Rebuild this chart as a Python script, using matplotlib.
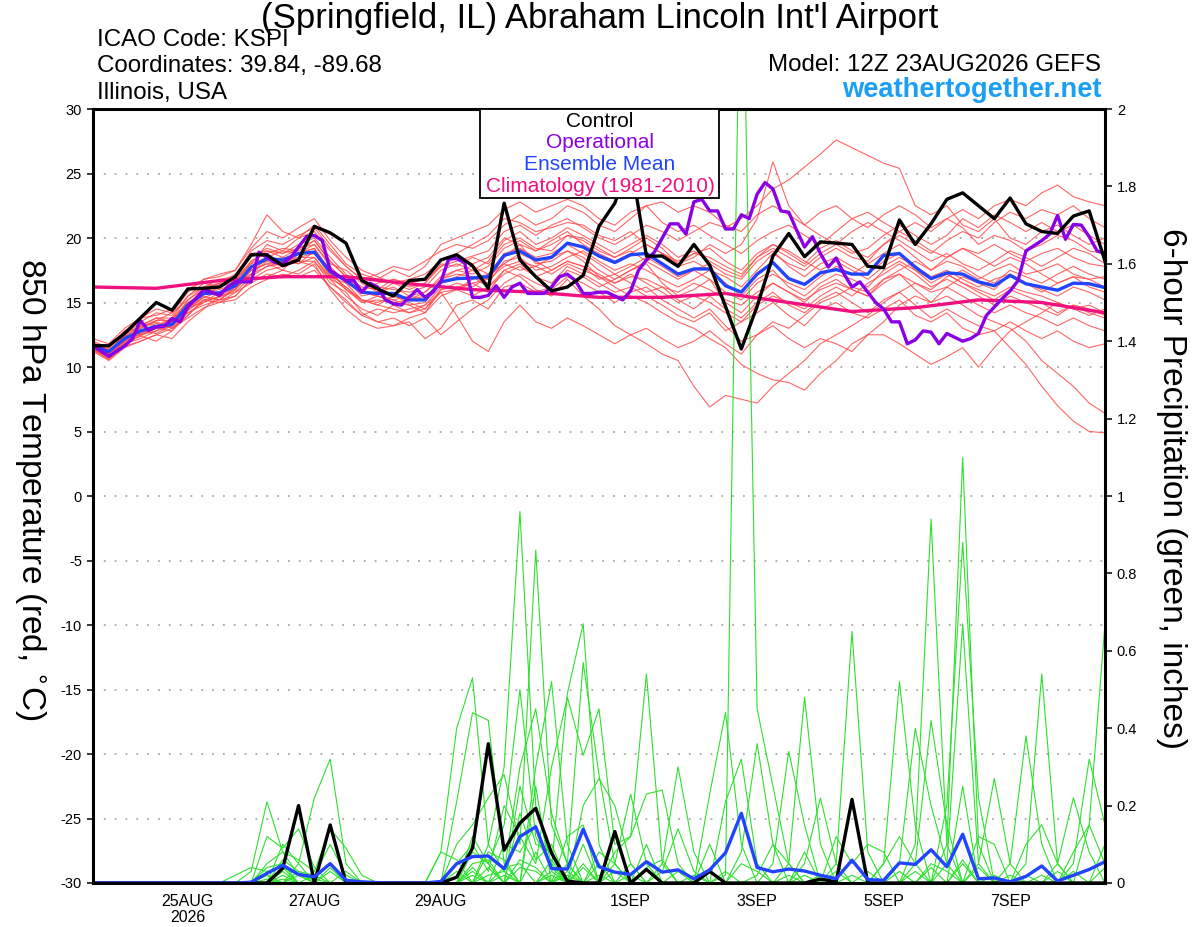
import numpy as np
import matplotlib
matplotlib.use('Agg')
import matplotlib.pyplot as plt
from matplotlib.patches import Rectangle

plt.rcParams['font.family'] = ['Liberation Sans', 'DejaVu Sans']
plt.rcParams['axes.unicode_minus'] = False

# forecast hours from 12Z 23AUG2026, 6-hourly
hours = np.arange(0, 385, 6)

# 850 hPa temperature, control run
ctrl_t = [11.65, 11.65, 12.6, 13.8, 15.0, 14.4, 16.05, 16.1, 16.2, 17.0,
          18.7, 18.7, 17.85, 18.3, 20.9, 20.4, 19.6, 16.7, 16.05, 15.5,
          16.7, 16.8, 18.3, 18.7, 17.85, 16.1, 22.7, 18.3, 17.0, 15.9,
          16.2, 17.1, 20.9, 22.7, 26.0, 18.6, 18.6, 17.8, 19.5, 17.9,
          14.7, 11.4, 14.7, 18.6, 20.35, 18.55, 19.7, 19.6, 19.5, 17.8,
          17.7, 21.4, 19.5, 21.1, 23.0, 23.5, 22.5, 21.5, 23.1, 21.1,
          20.5, 20.35, 21.7, 22.1, 18.2]

# operational run (3-hourly after the first half day)
op_hours = [0, 6, 12] + list(range(15, 385, 3))
op_t = [11.63, 10.83, 11.63,
        12.2, 13.6, 12.84, 13.1, 13.15, 13.75, 13.5, 14.65, 15.3, 16.0,
        15.8, 15.55, 16.2, 16.6, 16.6, 16.6, 18.9, 18.5, 18.1, 18.0,
        18.5, 19.3, 20.1, 20.2, 19.8, 17.5, 17.1, 16.7, 16.7, 15.8,
        16.5, 16.2, 15.2, 14.9, 14.8, 15.4, 16.0, 15.4, 15.8, 16.6,
        18.4, 18.4, 18.1, 15.4, 15.4, 15.55, 16.3, 15.4, 16.2, 16.5,
        15.7, 15.7, 15.7, 16.2, 17.0, 17.2, 16.7, 15.7,
        15.7, 15.8, 15.8, 15.5, 15.2, 15.9, 17.5, 18.3, 18.9, 20.0,
        21.1, 21.1, 20.3, 22.8, 23.0, 22.1, 22.1, 20.7, 20.7, 21.8,
        21.5, 23.4, 24.3, 23.8, 22.1, 22.0, 20.6, 19.3, 20.1, 18.8,
        17.75, 18.45, 17.2, 16.2, 16.6, 15.8, 15.0, 14.5, 13.5, 13.5,
        11.8, 12.1, 12.8, 12.7, 11.8, 12.6, 12.3, 12.0, 12.2, 12.6,
        14.0, 14.65, 15.3, 15.9, 16.7, 19.0, 19.4, 19.8, 20.3, 21.75,
        19.9, 21.05, 21.0, 20.1, 19.0, 18.8]

mean_t = [11.6, 11.2, 12.2, 12.8, 13.15, 13.3, 14.8, 15.7, 15.75, 16.3,
          17.75, 18.4, 18.3, 18.8, 18.9, 17.4, 16.7, 15.8, 15.7, 15.7,
          15.2, 15.2, 16.6, 16.85, 16.9, 17.0, 18.65, 19.0, 18.3, 18.5,
          19.6, 19.3, 18.6, 18.1, 18.7, 18.8, 18.0, 17.2, 17.6, 17.6,
          16.3, 15.8, 17.2, 18.1, 16.85, 16.4, 17.3, 17.55, 17.2, 17.2,
          18.65, 18.8, 17.75, 16.85, 17.3, 17.2, 16.6, 16.3, 17.1, 16.45,
          16.2, 15.95, 16.5, 16.45, 16.15]

# climatology (1981-2010), daily at 12Z
clim_hours = np.arange(0, 385, 24)
clim_t = [16.2, 16.1, 16.7, 17.0, 17.0, 16.45, 16.0, 15.8, 15.4,
          15.4, 15.7, 15.0, 14.3, 14.6, 15.2, 15.0, 14.2]

# ensemble members, 850 hPa temperature
members_t = [
    [11.8, 11.0, 12.5, 13.2, 13.8, 13.5, 15.2, 16.0, 16.5, 17.0,
     18.5, 19.2, 18.8, 19.5, 20.0, 18.5, 17.2, 16.0, 16.5, 16.8,
     16.2, 16.5, 17.8, 18.2, 18.6, 19.0, 20.5, 21.0, 20.2, 21.0,
     21.5, 20.8, 20.0, 19.5, 20.2, 21.0, 20.5, 19.8, 20.5, 21.2,
     20.8, 21.5, 22.5, 23.8, 24.5, 25.5, 26.5, 27.6, 27.0, 26.4,
     25.8, 25.4, 22.5, 21.8, 22.5, 21.0, 20.5, 21.5, 20.0, 19.5,
     20.5, 21.0, 20.2, 19.5, 20.0],
    [11.4, 10.6, 11.8, 12.4, 12.0, 12.8, 14.0, 15.2, 15.0, 15.8,
     17.0, 17.8, 18.2, 18.0, 18.5, 16.8, 15.5, 14.5, 14.0, 14.8,
     14.2, 14.5, 15.8, 16.0, 15.5, 16.2, 17.5, 18.0, 17.0, 16.5,
     17.8, 17.2, 16.5, 15.8, 16.2, 15.5, 14.8, 14.0, 13.5, 14.2,
     12.8, 13.5, 14.2, 15.0, 14.0, 13.2, 14.5, 15.0, 14.2, 13.8,
     14.5, 15.2, 14.0, 13.5, 14.2, 13.0, 12.5, 12.8, 11.5, 10.2,
     8.5, 7.0, 5.8, 5.0, 4.9],
    [11.9, 11.3, 12.0, 13.0, 13.5, 13.0, 14.5, 15.5, 15.2, 16.0,
     17.5, 18.0, 17.5, 18.8, 19.2, 17.5, 16.0, 15.0, 15.5, 15.2,
     14.8, 15.0, 16.5, 17.0, 17.5, 16.8, 18.5, 19.5, 18.0, 18.2,
     19.0, 18.5, 17.5, 16.8, 17.5, 18.0, 16.5, 15.5, 16.0, 16.8,
     15.0, 14.2, 15.5, 16.5, 15.8, 15.0, 16.2, 16.8, 16.0, 15.5,
     16.8, 17.2, 16.0, 15.0, 15.5, 14.8, 14.0, 13.5, 13.0, 12.0,
     10.5, 9.5, 8.5, 7.2, 6.4],
    [11.5, 10.9, 12.4, 12.6, 13.0, 13.8, 14.6, 15.0, 15.5, 16.2,
     17.2, 18.2, 18.5, 18.0, 19.0, 17.0, 16.5, 15.2, 14.8, 15.5,
     15.0, 14.5, 16.0, 16.2, 16.5, 15.8, 17.5, 17.0, 16.0, 15.5,
     16.8, 15.5, 14.5, 13.2, 12.5, 11.8, 11.0, 10.5, 8.5, 6.9,
     7.8, 7.5, 7.2, 8.5, 9.5, 10.5, 11.8, 12.5, 13.2, 14.0,
     15.0, 15.8, 16.5, 16.0, 17.0, 17.5, 16.8, 17.5, 18.0, 17.2,
     17.5, 18.0, 17.2, 16.8, 17.0],
    [11.2, 10.5, 11.5, 12.0, 12.5, 12.2, 13.5, 14.5, 15.5, 15.8,
     16.5, 17.2, 17.0, 17.5, 18.2, 16.5, 15.8, 14.2, 13.5, 13.2,
     13.8, 14.2, 15.5, 16.0, 16.8, 17.2, 18.0, 17.5, 17.8, 18.5,
     19.0, 18.2, 17.0, 16.2, 15.5, 15.0, 14.2, 13.5, 13.0, 12.2,
     11.5, 10.2, 9.5, 9.0, 8.8, 8.2, 9.5, 10.5, 11.8, 12.5,
     13.5, 14.8, 15.5, 15.0, 16.2, 17.0, 16.5, 16.0, 17.2, 16.5,
     15.8, 16.5, 17.0, 16.2, 15.8],
    [12.0, 11.5, 12.8, 13.5, 14.2, 14.0, 15.5, 16.5, 16.2, 16.8,
     18.0, 19.5, 19.0, 20.0, 20.5, 19.0, 17.8, 16.8, 16.2, 16.0,
     15.8, 16.2, 17.5, 18.0, 17.5, 18.2, 19.8, 20.5, 19.5, 20.0,
     20.8, 20.2, 19.5, 18.8, 19.5, 20.2, 19.5, 18.5, 19.0, 18.2,
     17.5, 17.0, 18.5, 19.5, 18.8, 18.0, 19.2, 19.8, 19.0, 18.5,
     19.5, 20.5, 21.2, 20.5, 21.5, 22.2, 21.5, 22.5, 23.0, 22.5,
     23.5, 24.1, 23.2, 22.8, 22.5],
    [11.7, 11.1, 12.2, 12.8, 13.2, 13.5, 15.0, 15.8, 16.0, 16.5,
     18.2, 18.8, 19.2, 19.0, 19.8, 18.2, 17.0, 15.8, 15.5, 15.2,
     15.5, 15.8, 17.0, 17.5, 17.2, 17.8, 19.2, 19.8, 19.0, 19.5,
     20.2, 19.8, 19.0, 18.5, 19.2, 20.0, 19.2, 18.0, 18.5, 19.5,
     18.8, 19.5, 21.5, 25.9, 22.5, 21.0, 20.2, 19.5, 20.5, 21.2,
     20.5, 19.8, 19.0, 18.2, 18.8, 18.0, 17.5, 18.2, 19.0, 18.5,
     17.8, 18.5, 19.2, 18.8, 18.0],
    [11.6, 11.0, 12.6, 13.8, 14.5, 14.2, 15.8, 16.8, 17.2, 17.5,
     19.5, 21.8, 20.5, 20.0, 21.0, 19.5, 18.0, 17.2, 16.8, 17.5,
     17.0, 17.8, 19.5, 20.0, 20.5, 21.0, 22.2, 22.8, 22.0, 22.5,
     23.0, 22.5, 21.5, 21.0, 22.0, 22.5, 21.2, 20.5, 21.0, 20.2,
     19.5, 18.8, 19.8, 20.5, 21.0, 20.2, 19.5, 20.5, 21.5, 22.0,
     21.2, 20.5, 19.8, 19.0, 18.5, 19.2, 18.5, 17.8, 18.5, 18.0,
     17.2, 16.5, 17.0, 16.8, 16.2],
    [11.3, 10.8, 11.8, 12.2, 12.8, 13.2, 14.2, 15.0, 15.8, 16.0,
     17.5, 18.0, 18.2, 18.5, 18.8, 17.2, 16.8, 15.5, 15.8, 16.2,
     15.5, 15.2, 16.8, 17.2, 17.0, 16.5, 18.2, 18.5, 17.5, 17.8,
     18.5, 19.0, 18.2, 17.5, 18.0, 17.5, 16.8, 16.2, 16.8, 17.5,
     16.5, 15.5, 16.8, 17.5, 16.2, 15.5, 16.5, 17.2, 16.8, 16.2,
     17.5, 18.2, 17.5, 16.8, 17.2, 16.5, 15.8, 15.2, 16.0, 15.5,
     15.0, 14.2, 14.8, 14.5, 14.0],
    [11.5, 10.7, 12.0, 12.6, 13.4, 13.0, 14.0, 15.2, 15.0, 15.5,
     16.8, 17.5, 17.8, 18.2, 17.8, 16.2, 15.2, 14.0, 13.5, 13.8,
     13.2, 13.8, 12.5, 13.5, 14.5, 15.2, 16.5, 17.2, 16.5, 16.0,
     17.0, 16.5, 15.8, 15.0, 15.8, 16.2, 15.2, 14.5, 13.8, 14.5,
     13.2, 12.0, 12.5, 13.2, 12.2, 11.5, 12.2, 11.8, 11.2, 12.5,
     12.5, 11.8, 11.0, 10.2, 10.8, 11.5, 10.0, 11.5, 12.8, 13.5,
     14.2, 15.0, 14.5, 14.0, 14.5],
    [11.8, 11.4, 12.8, 13.0, 13.6, 14.2, 15.2, 16.2, 16.5, 17.2,
     18.8, 19.0, 18.5, 19.2, 19.5, 18.0, 17.5, 16.5, 15.8, 16.5,
     16.0, 16.5, 18.0, 17.8, 18.5, 18.0, 19.5, 20.0, 19.2, 19.0,
     20.2, 20.0, 19.2, 18.5, 19.0, 18.2, 18.8, 17.8, 18.2, 17.5,
     17.0, 16.2, 17.5, 18.8, 18.0, 17.5, 18.5, 19.2, 18.5, 18.2,
     19.5, 20.2, 19.5, 18.8, 19.8, 20.5, 20.0, 21.2, 22.0, 21.5,
     22.2, 21.8, 22.5, 21.5, 20.8],
    [11.4, 10.8, 12.2, 12.5, 12.8, 13.5, 14.2, 14.8, 15.2, 15.5,
     16.8, 17.0, 17.5, 17.2, 18.0, 16.0, 14.5, 13.5, 13.0, 13.2,
     13.5, 12.2, 13.0, 14.8, 15.2, 14.5, 16.2, 16.5, 15.8, 16.2,
     17.5, 17.0, 16.2, 16.8, 17.5, 18.2, 17.5, 16.8, 17.5, 18.0,
     17.2, 16.8, 18.2, 19.0, 17.8, 17.0, 18.0, 18.5, 17.8, 17.2,
     18.2, 18.8, 17.5, 16.5, 17.2, 16.5, 16.0, 15.5, 16.2, 15.8,
     15.5, 15.0, 14.5, 14.8, 14.2],
    [11.9, 11.2, 12.4, 13.2, 13.8, 13.8, 15.5, 16.2, 16.8, 17.0,
     19.0, 19.8, 19.5, 20.2, 20.8, 19.2, 17.8, 16.8, 17.2, 17.8,
     17.5, 18.2, 19.0, 19.5, 19.2, 19.8, 21.0, 21.8, 21.0, 21.5,
     22.5, 22.0, 21.0, 20.5, 21.5, 22.5, 22.8, 22.0, 22.5, 22.0,
     21.0, 20.5, 21.8, 22.5, 21.8, 21.0, 22.0, 22.5, 21.5, 20.8,
     21.8, 22.5, 21.8, 20.8, 21.5, 20.8, 19.5, 20.2, 19.8, 19.0,
     19.5, 20.2, 19.8, 19.0, 18.8],
    [11.6, 11.0, 11.9, 12.4, 13.0, 12.8, 14.4, 15.4, 15.2, 16.2,
     17.2, 18.5, 18.0, 18.8, 19.2, 17.2, 16.2, 15.0, 15.2, 15.0,
     14.8, 14.2, 16.0, 16.5, 16.2, 17.0, 18.0, 18.8, 18.2, 17.5,
     18.2, 17.8, 16.8, 17.2, 16.5, 15.8, 16.2, 15.2, 14.5, 15.5,
     14.5, 13.8, 15.0, 15.8, 14.8, 14.2, 15.2, 15.8, 15.0, 14.2,
     15.2, 15.8, 14.8, 13.8, 14.5, 13.8, 13.2, 12.8, 13.5, 12.8,
     12.2, 12.8, 12.0, 11.5, 11.8],
    [11.7, 11.2, 12.6, 13.4, 13.2, 13.8, 15.0, 15.6, 16.2, 16.6,
     18.0, 18.5, 19.0, 18.8, 19.5, 17.8, 16.5, 15.8, 15.5, 15.0,
     15.2, 15.8, 16.8, 17.5, 17.8, 17.2, 18.8, 19.2, 18.5, 18.8,
     19.5, 18.8, 18.0, 17.2, 17.8, 18.5, 17.8, 17.0, 17.5, 16.8,
     15.8, 15.2, 16.5, 17.2, 16.5, 16.0, 17.0, 17.8, 17.2, 18.0,
     18.8, 19.5, 18.5, 17.5, 18.2, 17.8, 17.0, 16.5, 17.5, 17.0,
     16.5, 17.2, 17.8, 17.2, 16.8],
    [11.3, 10.6, 11.6, 12.0, 12.5, 13.0, 13.8, 14.6, 15.0, 15.2,
     16.2, 16.8, 17.2, 17.0, 17.5, 16.2, 15.0, 14.0, 14.5, 14.2,
     14.5, 14.8, 15.8, 14.0, 12.0, 11.2, 13.5, 14.8, 13.5, 13.0,
     13.8, 13.2, 12.5, 11.8, 12.5, 13.0, 12.2, 11.5, 12.0, 12.8,
     11.8, 11.0, 12.5, 13.5, 13.0, 14.0, 15.0, 15.5, 16.2, 15.8,
     16.8, 17.5, 18.2, 17.5, 18.5, 19.2, 18.8, 19.5, 18.8, 18.2,
     18.8, 19.2, 18.5, 18.0, 17.8],
    [12.2, 11.8, 13.0, 13.8, 14.0, 14.5, 16.0, 16.8, 17.0, 17.5,
     19.2, 20.5, 20.0, 20.8, 21.5, 19.8, 18.5, 17.5, 17.0, 16.5,
     16.8, 17.2, 18.2, 18.8, 19.5, 20.2, 21.5, 21.2, 20.5, 20.8,
     21.2, 21.0, 20.2, 19.8, 20.5, 19.5, 18.8, 18.0, 18.8, 19.2,
     18.2, 17.5, 18.8, 19.5, 19.0, 18.2, 17.5, 18.2, 17.5, 16.8,
     17.8, 18.5, 17.8, 17.0, 17.5, 16.8, 16.2, 16.8, 17.2, 16.5,
     16.0, 15.5, 16.2, 15.8, 15.2],
    [11.5, 10.9, 12.0, 12.8, 12.6, 13.2, 14.6, 15.4, 15.8, 16.4,
     17.8, 18.2, 17.8, 18.5, 18.5, 17.0, 16.0, 15.2, 14.8, 14.5,
     14.2, 14.8, 16.2, 16.0, 16.5, 16.8, 17.8, 18.2, 17.8, 17.2,
     18.0, 17.5, 17.0, 16.5, 17.2, 16.5, 15.8, 15.0, 15.5, 15.0,
     14.2, 13.5, 14.8, 15.5, 15.0, 14.5, 15.5, 16.2, 15.5, 16.5,
     17.2, 18.0, 17.2, 16.2, 16.8, 16.2, 15.5, 14.8, 15.5, 15.0,
     14.5, 14.0, 14.8, 14.2, 13.8],
    [11.8, 11.3, 12.3, 13.1, 13.6, 13.6, 14.8, 15.8, 16.4, 16.8,
     18.2, 19.0, 18.8, 19.2, 19.8, 18.2, 17.0, 16.2, 16.0, 16.8,
     16.5, 16.8, 17.8, 18.5, 18.0, 18.5, 20.0, 19.5, 19.0, 19.8,
     20.5, 19.5, 18.8, 18.2, 18.8, 19.5, 18.8, 18.2, 18.8, 18.5,
     17.8, 17.2, 18.5, 19.2, 18.5, 17.8, 18.8, 19.5, 18.8, 19.2,
     20.2, 21.0, 20.2, 19.5, 20.2, 21.5, 20.8, 21.8, 21.2, 20.5,
     21.2, 20.5, 21.0, 20.2, 19.5],
    [11.4, 10.8, 12.0, 12.5, 13.0, 13.2, 14.4, 15.2, 15.4, 16.0,
     17.2, 17.8, 18.0, 18.2, 18.2, 16.8, 16.2, 15.2, 15.0, 15.5,
     15.2, 15.5, 16.5, 16.8, 17.0, 16.2, 17.2, 17.8, 17.0, 17.5,
     18.2, 17.8, 17.2, 16.5, 17.0, 16.8, 16.2, 15.8, 16.5, 16.0,
     15.2, 14.8, 15.8, 16.5, 15.8, 15.2, 16.0, 16.5, 16.0, 15.5,
     16.5, 17.2, 16.5, 15.8, 16.2, 15.5, 14.8, 14.2, 14.8, 14.2,
     13.8, 13.2, 13.8, 13.2, 12.8],
]

# 6-hour precipitation (inches)
ctrl_p = [0, 0, 0, 0, 0, 0, 0, 0, 0, 0,
          0, 0, 0.038, 0.20, 0, 0.15, 0, 0, 0, 0,
          0, 0, 0, 0.015, 0.09, 0.36, 0.085, 0.155, 0.193, 0.077,
          0.005, 0, 0, 0.133, 0, 0.035, 0, 0, 0, 0.03,
          0, 0, 0, 0, 0, 0, 0.01, 0.003, 0.216, 0,
          0, 0, 0, 0, 0, 0, 0, 0, 0, 0,
          0, 0, 0, 0, 0]

mean_p = [0, 0, 0, 0, 0, 0, 0, 0, 0, 0,
          0.002, 0.025, 0.046, 0.022, 0.016, 0.05, 0.007, 0.003, 0.001, 0,
          0, 0, 0.004, 0.05, 0.068, 0.07, 0.037, 0.12, 0.145, 0.037,
          0.036, 0.139, 0.042, 0.028, 0.022, 0.055, 0.028, 0.034, 0.011, 0.034,
          0.078, 0.18, 0.04, 0.029, 0.036, 0.031, 0.02, 0.011, 0.059, 0.009,
          0.007, 0.052, 0.048, 0.086, 0.042, 0.126, 0.011, 0.013, 0.003, 0.017,
          0.044, 0.005, 0.02, 0.035, 0.055]

# members: {step index: precip}, zero elsewhere
members_p = [
    {10: 0.03, 11: 0.21, 12: 0.08, 13: 0.02, 22: 0.08, 23: 0.40, 24: 0.53, 25: 0.10,
     26: 0.30, 27: 0.96, 28: 0.20, 29: 0.05, 35: 0.10, 40: 0.02, 41: 2.60, 42: 0.45,
     43: 0.25, 44: 0.05, 54: 0.10, 55: 1.10, 56: 0.10},
    {11: 0.12, 12: 0.09, 13: 0.14, 14: 0.04, 23: 0.21, 24: 0.44, 25: 0.42, 26: 0.05,
     28: 0.30, 29: 0.52, 30: 0.10, 33: 0.05, 34: 0.23, 35: 0.05, 47: 0.05, 48: 0.65,
     49: 0.08, 59: 0.05, 60: 0.54, 61: 0.05},
    {12: 0.10, 13: 0.05, 14: 0.22, 15: 0.32, 16: 0.05, 23: 0.10, 24: 0.15, 25: 0.22,
     26: 0.28, 27: 0.10, 28: 0.86, 29: 0.15, 30: 0.05, 36: 0.05, 37: 0.30, 38: 0.08,
     52: 0.10, 53: 0.94, 54: 0.10, 63: 0.15, 64: 0.67},
    {11: 0.05, 12: 0.08, 13: 0.06, 14: 0.03, 15: 0.14, 16: 0.09, 17: 0.02, 24: 0.08,
     25: 0.05, 26: 0.15, 27: 0.50, 28: 0.12, 29: 0.04, 30: 0.49, 31: 0.67, 32: 0.10,
     44: 0.05, 45: 0.48, 46: 0.10, 54: 0.20, 55: 0.88, 56: 0.22},
    {12: 0.06, 13: 0.03, 14: 0.02, 15: 0.10, 16: 0.02, 25: 0.10, 26: 0.03, 27: 0.30,
     28: 0.45, 29: 0.18, 30: 0.05, 31: 0.57, 32: 0.28, 33: 0.05, 41: 0.08, 42: 0.36,
     43: 0.10, 50: 0.05, 51: 0.52, 52: 0.15, 62: 0.05, 63: 0.32, 64: 0.15},
    {9: 0.02, 10: 0.04, 11: 0.03, 12: 0.04, 16: 0.03, 23: 0.05, 24: 0.10, 25: 0.03,
     26: 0.20, 27: 0.12, 28: 0.05, 29: 0.30, 30: 0.48, 31: 0.33, 32: 0.45, 33: 0.10,
     34: 0.12, 35: 0.54, 36: 0.05, 51: 0.05, 52: 0.40, 53: 0.20, 54: 0.05},
    {11: 0.02, 13: 0.05, 24: 0.05, 25: 0.06, 27: 0.25, 28: 0.10, 29: 0.08, 31: 0.20,
     32: 0.27, 33: 0.20, 34: 0.05, 39: 0.23, 40: 0.44, 41: 0.10, 43: 0.05, 44: 0.34,
     45: 0.15, 54: 0.05, 55: 0.67, 56: 0.05, 58: 0.05, 59: 0.38, 60: 0.10},
    {12: 0.03, 14: 0.02, 23: 0.03, 25: 0.08, 26: 0.06, 28: 0.25, 30: 0.12, 31: 0.15,
     33: 0.08, 34: 0.12, 35: 0.23, 36: 0.24, 37: 0.05, 52: 0.05, 53: 0.42, 54: 0.15,
     56: 0.05, 57: 0.27, 58: 0.05},
    {11: 0.04, 12: 0.05, 15: 0.04, 24: 0.12, 25: 0.05, 27: 0.18, 28: 0.06, 29: 0.10,
     32: 0.08, 33: 0.05, 40: 0.21, 41: 0.32, 42: 0.05, 45: 0.05, 46: 0.22, 47: 0.05,
     55: 0.25, 61: 0.05, 62: 0.22, 63: 0.08},
    {13: 0.03, 24: 0.03, 26: 0.10, 27: 0.08, 28: 0.15, 29: 0.04, 31: 0.10, 36: 0.03,
     37: 0.14, 38: 0.03, 42: 0.02, 43: 0.10, 44: 0.05, 47: 0.12, 48: 0.05, 49: 0.10,
     50: 0.08, 56: 0.12, 57: 0.10, 64: 0.10},
    {12: 0.02, 22: 0.08, 23: 0.06, 25: 0.04, 28: 0.08, 30: 0.05, 32: 0.05, 34: 0.05,
     39: 0.10, 45: 0.08, 50: 0.05, 51: 0.12, 52: 0.05, 59: 0.10, 60: 0.15, 61: 0.05},
    {12: 0.04, 13: 0.02, 26: 0.04, 27: 0.05, 29: 0.06, 31: 0.04, 35: 0.04, 36: 0.06,
     41: 0.05, 42: 0.03, 49: 0.03, 53: 0.05, 54: 0.03, 62: 0.08, 63: 0.15, 64: 0.05},
    {11: 0.02, 15: 0.03, 24: 0.02, 27: 0.04, 28: 0.03, 30: 0.02, 33: 0.03, 44: 0.02,
     47: 0.03, 55: 0.05, 58: 0.02, 61: 0.03},
    {12: 0.01, 25: 0.02, 26: 0.03, 29: 0.02, 32: 0.02, 38: 0.02, 46: 0.02, 52: 0.03,
     57: 0.02, 60: 0.02},
    {13: 0.02, 14: 0.01, 27: 0.06, 28: 0.04, 30: 0.03, 34: 0.02, 40: 0.03, 48: 0.02,
     53: 0.04, 55: 0.06, 62: 0.03},
    {11: 0.01, 24: 0.04, 26: 0.02, 29: 0.03, 31: 0.05, 37: 0.03, 45: 0.02, 51: 0.03,
     56: 0.04, 59: 0.02, 64: 0.04},
]

date_ticks = [36, 84, 132, 204, 252, 300, 348]
date_labels = ['25AUG\n2026', '27AUG', '29AUG', '1SEP', '3SEP', '5SEP', '7SEP']
temp_ticks = np.arange(-30, 31, 5)
precip_ticks = [0, 0.2, 0.4, 0.6, 0.8, 1, 1.2, 1.4, 1.6, 1.8, 2]
precip_labels = ['0', '0.2', '0.4', '0.6', '0.8', '1', '1.2', '1.4', '1.6', '1.8', '2']

RED = '#ff4b4b'
GREEN = '#2ee02e'
PURPLE = '#8a00e6'
BLUE = '#2244ff'
PINK = '#f0107f'
LINK = '#1a9ff5'

W, H = 1200, 927


def fx(x):
    return x / W


def fy(y):
    return 1 - y / H


fig = plt.figure(figsize=(W / 100, H / 100), dpi=100)
ax = fig.add_axes([fx(93), fy(883), (1105 - 93) / W, (883 - 109) / H])
axp = ax.twinx()
axm = ax.twinx()

# temperature spaghetti
for m in members_t:
    ax.plot(hours, m, color=RED, lw=0.8, alpha=0.85)
ax.set_xlim(0, 384)
ax.set_ylim(-30, 30)
ax.set_yticks(temp_ticks)
ax.grid(axis='y', color='#a8a8a8', ls=(0, (1, 5)), lw=1.3)
ax.set_xticks(date_ticks)
ax.set_xticklabels(date_labels, linespacing=1.1)
ax.tick_params(axis='y', direction='out', length=4.5, width=1.1, labelsize=10.5, pad=3.5)
ax.tick_params(axis='x', length=0, labelsize=11.5, pad=8)

# precipitation
for d in members_p:
    p = np.zeros(len(hours))
    for k, v in d.items():
        p[k] = v
    axp.plot(hours, p, color=GREEN, lw=0.8)
axp.plot(hours, ctrl_p, color='black', lw=2.4)
axp.plot(hours, mean_p, color=BLUE, lw=2.4)
axp.set_ylim(0, 2)
axp.set_yticks(precip_ticks)
axp.set_yticklabels(precip_labels)
axp.tick_params(axis='y', direction='out', length=5, width=1.1, labelsize=10.5, pad=3.5)

# main temperature lines on top
axm.plot(clim_hours, clim_t, color=PINK, lw=2.4)
axm.plot(hours, mean_t, color=BLUE, lw=2.4)
axm.plot(op_hours, op_t, color=PURPLE, lw=2.4)
axm.plot(hours, ctrl_t, color='black', lw=2.4)
axm.set_ylim(-30, 30)
axm.tick_params(right=False, labelright=False)

for a in (ax, axp):
    for s in a.spines.values():
        s.set_visible(False)
for s in axm.spines.values():
    s.set_linewidth(2.2)

# legend box
axm.add_artist(Rectangle((fx(480), fy(198)), (719 - 480) / W, (198 - 109) / H,
                         transform=fig.transFigure, facecolor='white',
                         edgecolor='black', lw=1.3, zorder=10, clip_on=False))
legend_items = [('Control', 'black', 127), ('Operational', PURPLE, 148),
                ('Ensemble Mean', BLUE, 170), ('Climatology (1981-2010)', PINK, 192)]
for txt, col, yb in legend_items:
    axm.text(fx(600), fy(yb), txt, color=col, fontsize=15, ha='center',
             va='baseline', transform=fig.transFigure, zorder=11)

# header
fig.text(fx(600), fy(28), "(Springfield, IL) Abraham Lincoln Int'l Airport",
         ha='center', va='baseline', fontsize=25)
fig.text(fx(97), fy(45.7), 'ICAO Code: KSPI', va='baseline', fontsize=17.4)
fig.text(fx(97), fy(71.7), 'Coordinates: 39.84, -89.68', va='baseline', fontsize=17.4)
fig.text(fx(97), fy(99), 'Illinois, USA', va='baseline', fontsize=17.4)
fig.text(fx(1101), fy(71), 'Model: 12Z 23AUG2026 GEFS', ha='right', va='baseline', fontsize=17.4)
fig.text(fx(1102), fy(96.7), 'weathertogether.net', ha='right', va='baseline',
         fontsize=19.6, weight='bold', color=LINK)

# axis titles
fig.text(fx(30), fy(489), r'850 hPa Temperature (red, $^{\circ}$C)', rotation=-90,
         ha='center', va='center', fontsize=24)
fig.text(fx(1172), fy(489), '6-hour Precipitation (green, inches)', rotation=-90,
         ha='center', va='center', fontsize=24)

fig.savefig('out.png', dpi=100)
